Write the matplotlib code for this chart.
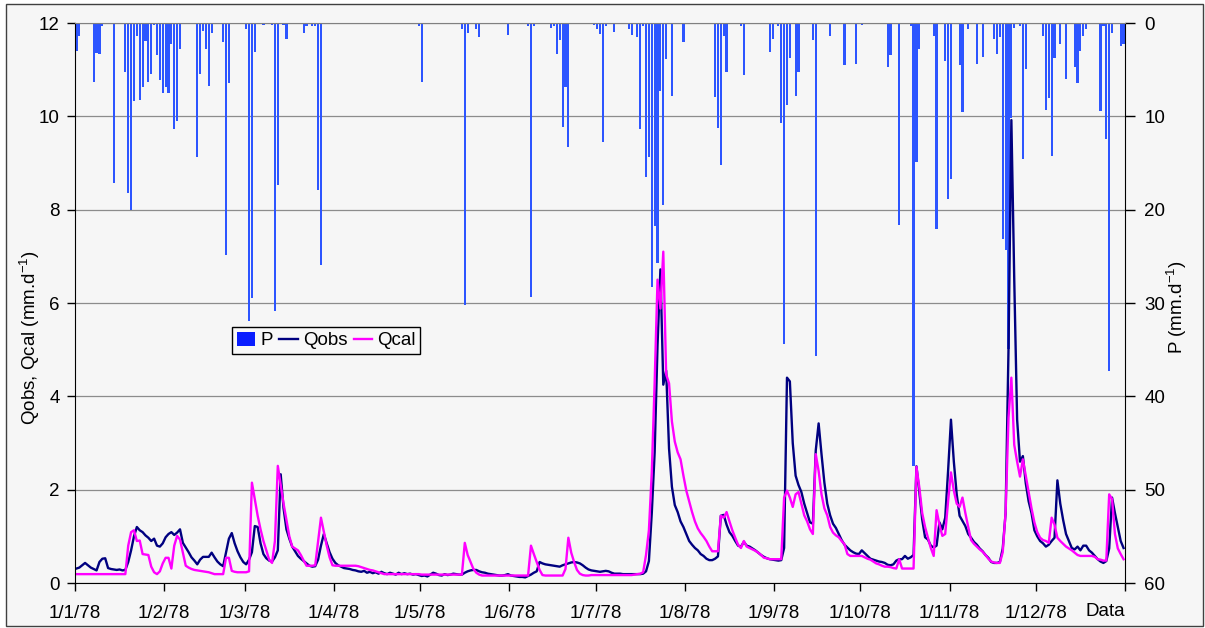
import numpy as np
import matplotlib
matplotlib.use('Agg')
import matplotlib.pyplot as plt
from matplotlib.patches import Rectangle, Patch
from matplotlib.lines import Line2D

plt.rcParams['font.family'] = ['Liberation Sans', 'DejaVu Sans']
plt.rcParams['mathtext.fontset'] = 'custom'
plt.rcParams['mathtext.rm'] = 'Liberation Sans'
plt.rcParams['mathtext.it'] = 'Liberation Sans:italic'

# ---------------- data (1978, daily) ----------------
month_starts = [0, 31, 59, 90, 120, 151, 181, 212, 243, 273, 304, 334, 365]
month_labels = ['1/1/78', '1/2/78', '1/3/78', '1/4/78', '1/5/78', '1/6/78',
                '1/7/78', '1/8/78', '1/9/78', '1/10/78', '1/11/78', '1/12/78', '']

# precipitation: day index (0 = 1 Jan) and depth (mm/d); all other days are 0
P_days = [0, 1, 6, 7, 8, 9, 13, 17, 18, 19, 20, 21, 22, 23, 24, 25, 26, 27, 28, 29,
          30, 31, 32, 33, 34, 35, 36, 42, 43, 44, 45, 46, 47, 51, 52, 53, 59, 60, 61, 62,
          65, 68, 69, 70, 72, 73, 79, 80, 82, 83, 84, 85, 119, 120, 134, 135, 136, 139, 140, 150,
          157, 158, 159, 165, 166, 167, 168, 169, 170, 171, 180, 181, 182, 183, 184, 187, 192, 193, 195, 196,
          197, 198, 199, 200, 201, 202, 203, 204, 205, 207, 211, 222, 223, 224, 225, 226, 231, 232, 241, 242,
          244, 245, 246, 247, 248, 250, 251, 256, 257, 262, 267, 271, 273, 282, 283, 286, 290, 291, 292, 293,
          298, 299, 302, 303, 304, 307, 308, 310, 313, 315, 319, 320, 321, 322, 323, 324, 325, 326, 328, 329,
          330, 336, 337, 338, 339, 340, 342, 344, 347, 348, 349, 350, 351, 356, 357, 358, 359, 360, 363, 364]
P_mm = [3.0, 1.44, 6.3, 3.2, 3.3, 0.35, 17.1, 5.25, 18.2, 20.0, 8.4, 1.44, 8.25, 6.9, 1.9, 6.3, 5.5, 0.2, 3.4, 6.1,
        7.5, 6.9, 7.5, 2.2, 11.4, 10.5, 2.8, 14.4, 5.5, 0.86, 2.8, 6.8, 1.1, 2.0, 24.9, 6.4, 0.6, 31.9, 29.5, 3.1,
        0.2, 0.2, 30.9, 17.4, 0.2, 1.7, 1.1, 0.3, 0.3, 0.3, 17.9, 25.9, 0.3, 6.3, 0.6, 30.2, 1.1, 0.66, 1.5, 1.25,
        0.3, 29.4, 0.3, 0.5, 0.3, 3.3, 1.8, 11.1, 6.9, 13.3, 0.2, 0.6, 1.2, 12.7, 0.3, 1.0, 0.6, 1.25, 1.5, 11.4,
        0.3, 16.5, 14.4, 28.3, 21.8, 25.7, 7.3, 19.5, 3.85, 7.8, 2.0, 7.9, 11.3, 15.2, 1.44, 5.25, 0.3, 5.6, 3.1, 1.75,
        0.3, 10.7, 34.4, 8.8, 3.8, 7.8, 5.25, 1.8, 35.7, 1.44, 4.55, 4.4, 0.2, 4.7, 3.4, 21.6, 0.35, 47.5, 14.9, 2.8,
        1.44, 22.1, 4.1, 18.9, 16.7, 4.5, 9.5, 0.66, 4.4, 3.6, 1.7, 3.3, 1.5, 23.1, 24.3, 34.9, 10.2, 0.5, 0.3, 14.6,
        4.9, 1.44, 9.3, 8.05, 14.2, 3.7, 2.3, 6.0, 4.7, 6.4, 3.0, 1.36, 0.6, 9.4, 0.35, 12.4, 37.3, 1.1, 2.5, 2.3]

Qobs = [
    0.31, 0.33, 0.38, 0.43, 0.38, 0.33, 0.30, 0.27, 0.45, 0.52,
    0.53, 0.32, 0.30, 0.29, 0.28, 0.29, 0.27, 0.28, 0.45, 0.70,
    1.00, 1.20, 1.13, 1.09, 1.02, 0.97, 0.90, 0.95, 0.80, 0.78,
    0.85, 0.98, 1.05, 1.09, 1.03, 1.08, 1.15, 0.86, 0.76, 0.66,
    0.55, 0.48, 0.40, 0.50, 0.56, 0.56, 0.56, 0.65, 0.55, 0.46,
    0.40, 0.36, 0.65, 0.95, 1.07, 0.85, 0.68, 0.55, 0.45, 0.40,
    0.50, 0.66, 1.22, 1.20, 0.85, 0.62, 0.53, 0.48, 0.46, 0.55,
    0.70, 2.33, 1.60, 1.15, 0.95, 0.78, 0.68, 0.58, 0.52, 0.47,
    0.42, 0.37, 0.35, 0.36, 0.50, 0.80, 1.05, 0.85, 0.66, 0.52,
    0.43, 0.38, 0.35, 0.32, 0.31, 0.30, 0.28, 0.27, 0.25, 0.24,
    0.26, 0.22, 0.24, 0.21, 0.23, 0.20, 0.24, 0.21, 0.19, 0.22,
    0.20, 0.18, 0.22, 0.19, 0.21, 0.19, 0.20, 0.18, 0.19, 0.17,
    0.15, 0.16, 0.14, 0.18, 0.22, 0.20, 0.17, 0.16, 0.19, 0.17,
    0.18, 0.20, 0.19, 0.18, 0.18, 0.22, 0.25, 0.27, 0.28, 0.28,
    0.25, 0.23, 0.22, 0.20, 0.19, 0.18, 0.17, 0.16, 0.16, 0.17,
    0.19, 0.16, 0.15, 0.14, 0.13, 0.13, 0.12, 0.15, 0.18, 0.22,
    0.25, 0.45, 0.42, 0.40, 0.39, 0.38, 0.37, 0.36, 0.35, 0.38,
    0.40, 0.42, 0.44, 0.45, 0.44, 0.42, 0.38, 0.33, 0.29, 0.27,
    0.26, 0.25, 0.24, 0.25, 0.26, 0.25, 0.22, 0.20, 0.20, 0.20,
    0.19, 0.19, 0.19, 0.19, 0.19, 0.19, 0.19, 0.20, 0.25, 0.47,
    1.50, 2.80, 5.10, 6.72, 4.25, 4.55, 2.88, 2.06, 1.67, 1.52,
    1.32, 1.20, 1.05, 0.90, 0.82, 0.75, 0.70, 0.62, 0.58, 0.52,
    0.49, 0.49, 0.52, 0.57, 1.44, 1.46, 1.25, 1.09, 1.01, 0.90,
    0.80, 0.78, 0.88, 0.80, 0.78, 0.74, 0.70, 0.65, 0.60, 0.56,
    0.53, 0.51, 0.50, 0.49, 0.48, 0.49, 0.75, 4.40, 4.32, 3.00,
    2.30, 2.10, 1.95, 1.70, 1.50, 1.30, 1.27, 2.84, 3.42, 2.76,
    2.15, 1.70, 1.45, 1.27, 1.18, 1.05, 0.92, 0.82, 0.76, 0.70,
    0.66, 0.63, 0.62, 0.70, 0.64, 0.58, 0.52, 0.50, 0.48, 0.46,
    0.45, 0.43, 0.39, 0.38, 0.40, 0.48, 0.51, 0.51, 0.58, 0.52,
    0.55, 0.60, 2.50, 1.95, 1.36, 0.98, 0.93, 0.80, 0.76, 0.80,
    1.30, 1.15, 1.40, 2.40, 3.50, 2.60, 1.90, 1.44, 1.33, 1.22,
    1.05, 0.97, 0.88, 0.82, 0.74, 0.68, 0.60, 0.54, 0.45, 0.43,
    0.43, 0.45, 0.74, 1.50, 5.00, 9.92, 6.50, 3.50, 2.60, 2.72,
    2.14, 1.75, 1.50, 1.13, 1.00, 0.90, 0.85, 0.78, 0.82, 0.90,
    0.97, 2.20, 1.70, 1.35, 1.05, 0.90, 0.75, 0.72, 0.78, 0.70,
    0.80, 0.80, 0.70, 0.65, 0.58, 0.51, 0.46, 0.43, 0.47, 0.74,
    1.83, 1.50, 1.20, 0.90, 0.75]

Qcal = [
    0.19, 0.19, 0.19, 0.19, 0.19, 0.19, 0.19, 0.19, 0.19, 0.19,
    0.19, 0.19, 0.19, 0.19, 0.19, 0.19, 0.19, 0.19, 0.80, 1.09,
    1.13, 0.90, 0.91, 0.62, 0.61, 0.60, 0.35, 0.23, 0.19, 0.25,
    0.42, 0.54, 0.54, 0.31, 0.80, 1.01, 0.93, 0.65, 0.37, 0.33,
    0.30, 0.28, 0.27, 0.26, 0.25, 0.24, 0.23, 0.21, 0.19, 0.19,
    0.19, 0.19, 0.54, 0.54, 0.26, 0.24, 0.23, 0.23, 0.23, 0.23,
    0.25, 2.15, 1.80, 1.44, 1.15, 0.90, 0.70, 0.50, 0.43, 0.90,
    2.51, 2.10, 1.70, 1.35, 1.00, 0.78, 0.74, 0.70, 0.60, 0.48,
    0.37, 0.37, 0.37, 0.38, 0.90, 1.40, 1.10, 0.80, 0.55, 0.38,
    0.37, 0.37, 0.37, 0.37, 0.37, 0.37, 0.37, 0.37, 0.36, 0.34,
    0.32, 0.30, 0.28, 0.27, 0.25, 0.23, 0.21, 0.19, 0.19, 0.19,
    0.19, 0.19, 0.19, 0.19, 0.19, 0.19, 0.19, 0.19, 0.19, 0.19,
    0.18, 0.18, 0.18, 0.18, 0.18, 0.18, 0.18, 0.18, 0.18, 0.18,
    0.18, 0.18, 0.18, 0.18, 0.18, 0.86, 0.60, 0.45, 0.30, 0.22,
    0.18, 0.16, 0.16, 0.16, 0.16, 0.16, 0.16, 0.16, 0.16, 0.16,
    0.16, 0.16, 0.16, 0.16, 0.16, 0.16, 0.16, 0.16, 0.80, 0.62,
    0.45, 0.28, 0.17, 0.16, 0.16, 0.16, 0.16, 0.16, 0.16, 0.16,
    0.30, 0.97, 0.65, 0.45, 0.28, 0.20, 0.17, 0.16, 0.16, 0.17,
    0.17, 0.17, 0.17, 0.17, 0.17, 0.17, 0.17, 0.17, 0.17, 0.17,
    0.17, 0.17, 0.17, 0.17, 0.18, 0.19, 0.20, 0.23, 0.60, 1.13,
    2.37, 4.30, 6.50, 5.88, 7.10, 4.47, 4.28, 3.46, 3.03, 2.80,
    2.65, 2.30, 1.98, 1.75, 1.52, 1.32, 1.17, 1.07, 0.99, 0.90,
    0.78, 0.68, 0.68, 0.68, 1.44, 1.40, 1.52, 1.32, 1.13, 0.97,
    0.82, 0.75, 0.90, 0.78, 0.75, 0.72, 0.69, 0.65, 0.60, 0.54,
    0.53, 0.51, 0.51, 0.51, 0.51, 0.51, 1.83, 1.98, 1.83, 1.63,
    1.90, 1.95, 1.70, 1.45, 1.32, 1.15, 1.05, 2.76, 2.40, 1.90,
    1.60, 1.45, 1.20, 1.08, 1.02, 0.98, 0.90, 0.83, 0.62, 0.58,
    0.58, 0.58, 0.58, 0.58, 0.55, 0.52, 0.50, 0.46, 0.42, 0.40,
    0.37, 0.35, 0.35, 0.34, 0.32, 0.31, 0.51, 0.31, 0.31, 0.31,
    0.31, 0.31, 2.49, 2.05, 1.50, 1.20, 0.97, 0.75, 0.58, 1.56,
    1.25, 1.01, 1.05, 1.75, 2.37, 1.98, 1.70, 1.63, 1.83, 1.50,
    1.20, 0.92, 0.84, 0.78, 0.72, 0.67, 0.60, 0.52, 0.46, 0.44,
    0.43, 0.43, 0.66, 1.52, 3.54, 4.40, 2.96, 2.60, 2.28, 2.65,
    2.30, 1.95, 1.60, 1.30, 1.09, 0.97, 0.92, 0.90, 0.86, 1.40,
    1.25, 0.97, 0.90, 0.84, 0.78, 0.74, 0.70, 0.65, 0.60, 0.58,
    0.58, 0.58, 0.58, 0.58, 0.56, 0.51, 0.50, 0.48, 0.48, 1.90,
    1.80, 1.05, 0.74, 0.62, 0.51]

# ---------------- figure ----------------
W, H = 1205, 628
fig = plt.figure(figsize=(W / 100, H / 100), dpi=100)
fig.patch.set_facecolor('white')
fig.add_artist(Rectangle((6 / W, 1 - 626 / H), (1203 - 6) / W, (626 - 4) / H,
                         transform=fig.transFigure, facecolor='#f6f6f6',
                         edgecolor='#404040', lw=1.0, zorder=-5))

rect = [75 / W, 1 - 583 / H, 1050 / W, 560 / H]
ax = fig.add_axes(rect)
ax2 = ax.twinx()
ax2.set_zorder(1)
ax.set_zorder(2)
ax.patch.set_visible(False)
ax2.patch.set_facecolor('white')

n = len(Qobs)
x = np.arange(n) + 0.5

# precipitation bars (right axis, inverted)
ax2.bar(np.array(P_days) + 0.5, P_mm, width=0.75, color='#2d55ff', edgecolor='none')
ax2.set_ylim(60, 0)
ax2.set_yticks(range(0, 61, 10))
ax2.yaxis.grid(True, color='#8c8c8c', lw=0.9)
ax2.set_axisbelow(True)

# discharge lines (left axis)
ax.plot(x, Qobs, color='#000080', lw=1.7, solid_joinstyle='round')
ax.plot(x, Qcal, color='#ff00ff', lw=1.7, solid_joinstyle='round')
ax.set_ylim(0, 12)
ax.set_yticks(range(0, 13, 2))
ax.set_xlim(0, 365)
ax.set_xticks(month_starts)
ax.set_xticklabels(month_labels)

for s in ['left', 'bottom', 'top', 'right']:
    ax2.spines[s].set_visible(False)
ax2.spines['right'].set_visible(True)
ax2.spines['right'].set_color('black')
ax.spines['right'].set_visible(False)
ax.spines['left'].set_color('black')
ax.spines['bottom'].set_color('black')
ax.spines['top'].set_color('#808080')

ax.tick_params(axis='y', direction='out', length=6, width=1, labelsize=13.5, pad=5)
ax.tick_params(axis='x', direction='out', length=6, width=1, labelsize=13.5, pad=10)
ax2.tick_params(axis='y', direction='out', length=7, width=1, labelsize=13.5, pad=7)

# axis titles
fig.text(30 / W, 1 - 338 / H, 'Qobs, Qcal (mm.d$^{-1}$)', rotation=90,
         ha='center', va='center', fontsize=13.5)
fig.text(1177 / W, 1 - 307 / H, 'P (mm.d$^{-1}$)', rotation=90,
         ha='center', va='center', fontsize=13.5)
fig.text(1105 / W, 1 - 616 / H, 'Data', ha='center', va='baseline', fontsize=13.5)

# legend
handles = [Patch(facecolor='#0a1eff', edgecolor='none'),
           Line2D([], [], color='#000080', lw=1.7),
           Line2D([], [], color='#ff00ff', lw=1.7)]
leg = ax.legend(handles, ['P', 'Qobs', 'Qcal'], ncol=3, loc='upper left',
                bbox_to_anchor=((232 - 75) / 1050, (583 - 327) / 560),
                frameon=True, fancybox=False, edgecolor='black', facecolor='#f8f8f8',
                framealpha=1, fontsize=13.5, handlelength=1.0, handleheight=0.8,
                handletextpad=0.25, columnspacing=0.35, borderpad=0.25, borderaxespad=0)
leg.get_frame().set_linewidth(1.0)

fig.savefig('out.png', dpi=100, facecolor=fig.get_facecolor())
